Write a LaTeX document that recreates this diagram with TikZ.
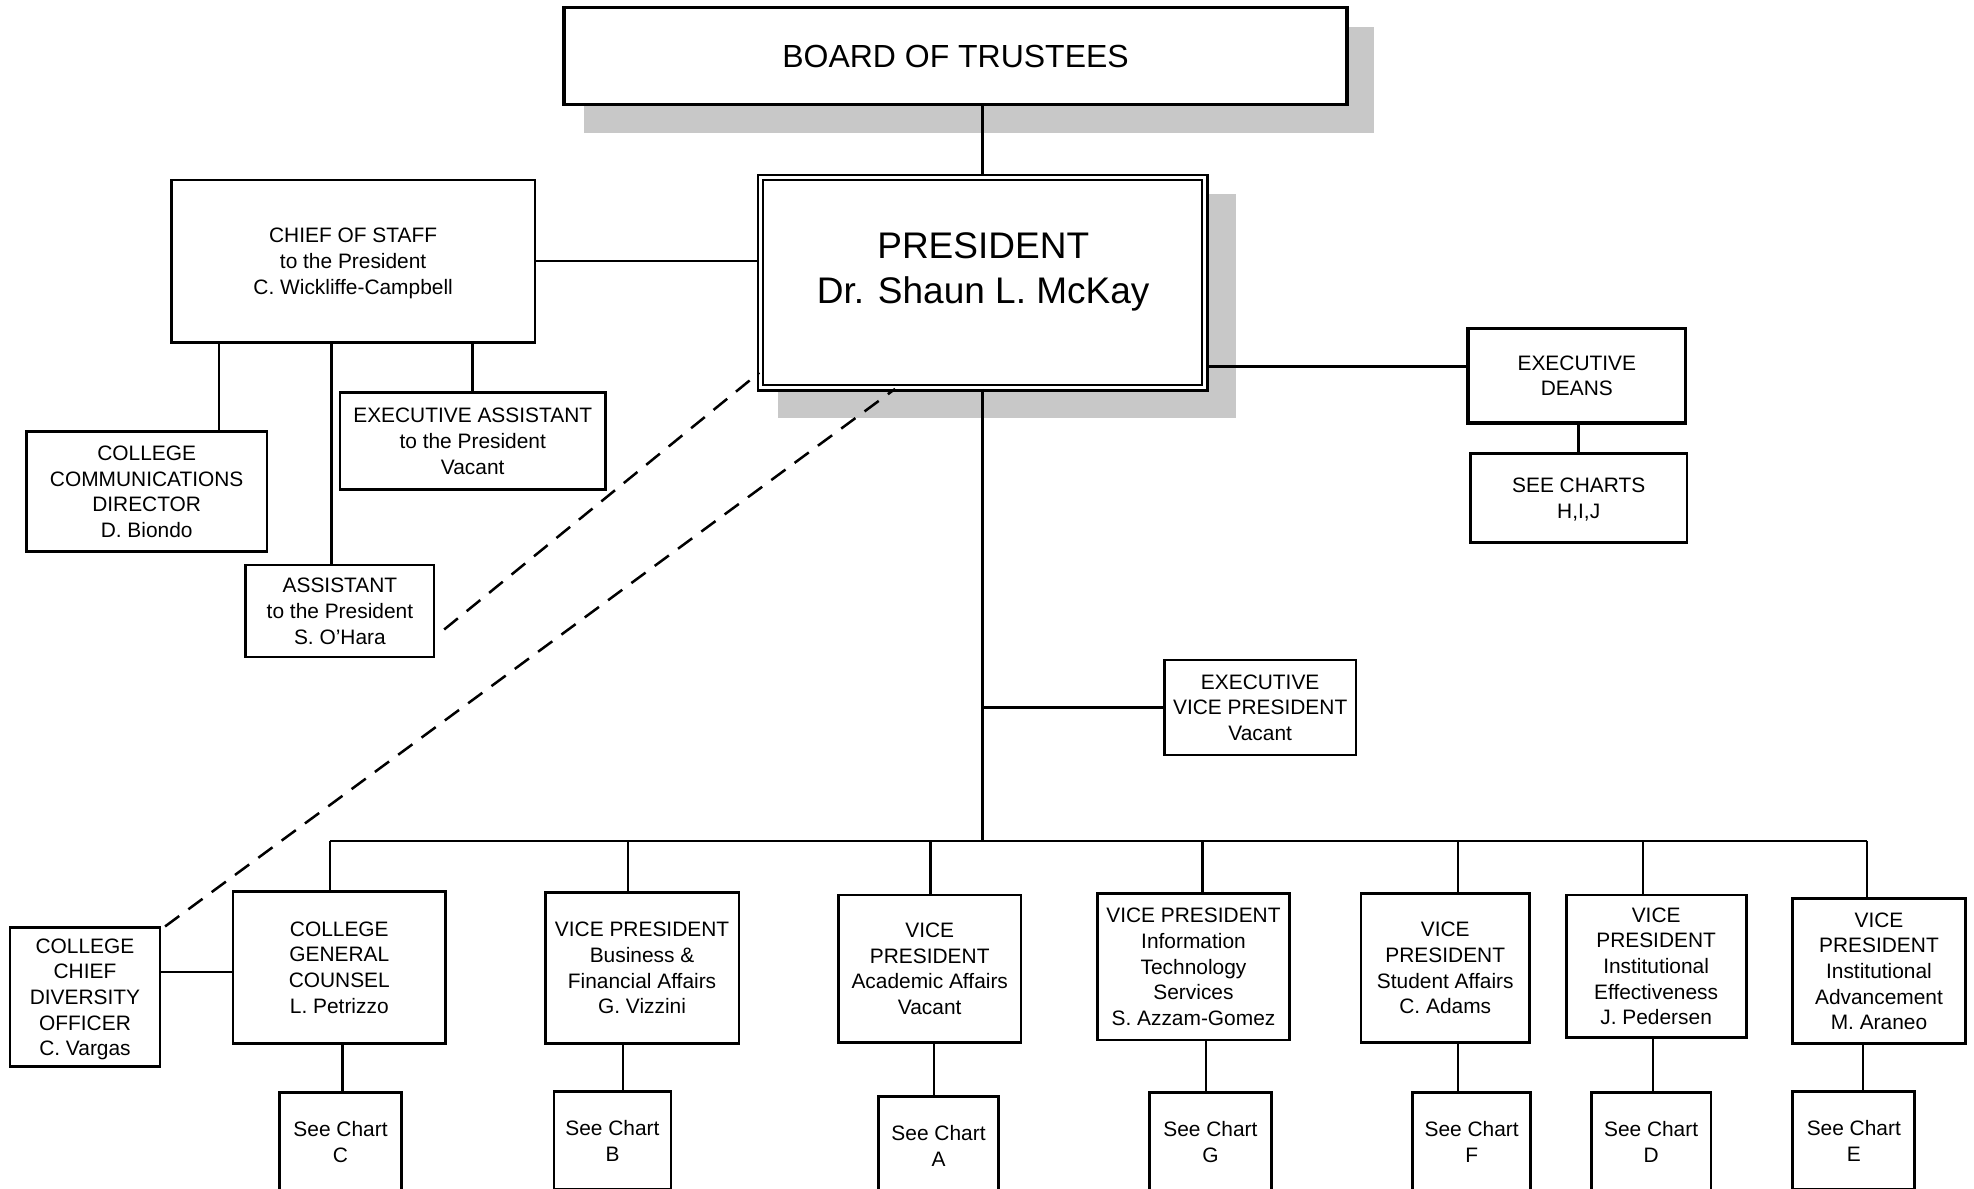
\documentclass[tikz,border=0pt]{standalone}
\usepackage{fontspec}
\setmainfont{Liberation Sans}
\usetikzlibrary{backgrounds}

\definecolor{shadowgray}{RGB}{200,200,200}
\tikzset{
	orgbox/.style={draw, fill=white, line width=2.2pt, align=center, inner sep=2pt, text depth=0pt,
		font=\fontsize{16.6pt}{20.4pt}\selectfont},
	dims/.style 2 args={minimum width=#1pt, minimum height=#2pt},
	conn/.style={line width=2pt},
	dashconn/.style={line width=2pt, dash pattern=on 14pt off 9pt},
}

\begin{document}
\begin{tikzpicture}[x=1pt,y=-1pt]
	\useasboundingbox (0,0) rectangle (1568,944);
	\clip (0,0) rectangle (1568,944);
	
	% board and president
	\node[orgbox, line width=2.6pt, dims={622}{77}, font=\fontsize{25.4pt}{30pt}\selectfont] (board) at (759,44.5) {BOARD OF TRUSTEES};
	\node[orgbox, double, double distance=2.4pt, line width=1.8pt, dims={353}{167}] (pres) at (780.5,224.5) {};
	\node[align=center, font=\fontsize{29.4pt}{36pt}\selectfont] (prestext) at (781,216) {PRESIDENT\\Dr. Shaun L. McKay};
	
	\begin{scope}[on background layer]
		\fill[shadowgray] ([shift={(17,17)}]board.north west) rectangle ([shift={(20,21)}]board.south east);
		\fill[shadowgray] ([shift={(14.5,14)}]pres.north west) rectangle ([shift={(23.5,23)}]pres.south east);
	\end{scope}
	
	% president's office
	\node[orgbox, dims={289}{129}] (cos) at (280.5,207.5) {CHIEF OF STAFF\\to the President\\C. Wickliffe-Campbell};
	\node[orgbox, dims={191}{95}] (comm) at (116.5,390.5) {COLLEGE\\COMMUNICATIONS\\DIRECTOR\\D. Biondo};
	\node[orgbox, line width=1.7pt, dims={150}{73}] (asst) at (270,485.5) {ASSISTANT\\to the President\\S. O’Hara};
	\node[orgbox, dims={211}{77}] (execasst) at (375.5,350.5) {EXECUTIVE ASSISTANT\\to the President\\Vacant};
	
	\node[orgbox, line width=2.6pt, dims={173}{75}] (deans) at (1252.5,298.5) {EXECUTIVE\\DEANS};
	\node[orgbox, dims={172}{71}] (hij) at (1254,395.5) {SEE CHARTS\\H,I,J};
	\node[orgbox, line width=1.7pt, dims={152}{76}] (evp) at (1001,562) {EXECUTIVE\\VICE PRESIDENT\\Vacant};
	
	% vice presidents
	\node[orgbox, dims={119}{110}] (diversity) at (67.5,792) {COLLEGE\\CHIEF\\DIVERSITY\\OFFICER\\C. Vargas};
	\node[orgbox, dims={169}{121}] (counsel) at (269.5,768.5) {COLLEGE\\GENERAL\\COUNSEL\\L. Petrizzo};
	\node[orgbox, dims={154}{120}] (vpbus) at (510,769) {VICE PRESIDENT\\Business \&\\Financial Affairs\\G. Vizzini};
	\node[orgbox, dims={145}{117}] (vpacad) at (738.5,769.5) {VICE\\PRESIDENT\\Academic Affairs\\Vacant};
	\node[orgbox, dims={152}{116}] (vpit) at (948,768) {VICE PRESIDENT\\Information\\Technology\\Services\\S. Azzam-Gomez};
	\node[orgbox, dims={134}{118}] (vpstud) at (1148,769) {VICE\\PRESIDENT\\Student Affairs\\C. Adams};
	\node[orgbox, dims={143}{113}] (vpeff) at (1315.5,767.5) {VICE\\PRESIDENT\\Institutional\\Effectiveness\\J. Pedersen};
	\node[orgbox, dims={137}{115}] (vpadv) at (1492.5,771.5) {VICE\\PRESIDENT\\Institutional\\Advancement\\M. Araneo};
	
	\foreach \ch/\x/\y/\w in {C/270.5/907/97, B/486.5/906/93, A/745.5/910/95, G/961.5/907/97, F/1169/907/94, D/1311.5/907/95, E/1472.5/906/97}
		\node[orgbox, dims={\w}{78}] (chart\ch) at (\x,\y) {See Chart\\\ch};
	
	% connectors
	\draw[conn] (board.south -| pres.north) -- (pres.north);
	\draw[conn] (cos.east) -- (cos.east -| pres.west);
	\draw[conn] ([xshift=57.5]comm.north) -- ([xshift=57.5]comm.north |- cos.south);
	\draw[conn] ([xshift=-6.5]asst.north) -- ([xshift=-6.5]asst.north |- cos.south);
	\draw[conn] (execasst.north) -- (execasst.north |- cos.south);
	\draw[conn] ([yshift=7.5]deans.west) -- ([yshift=7.5]deans.west -| pres.east);
	\draw[conn] (deans.south -| hij.north) -- (hij.north);
	
	\coordinate (bus) at (780.5,668);
	\draw[conn] (pres.south) -- (bus);
	\draw[conn] (bus |- evp.west) -- (evp.west);
	\draw[conn] ([xshift=-7.5]counsel.north |- bus) -- ([xshift=-9.5]vpadv.north |- bus);
	\foreach \vp/\ch/\dx/\ex in {counsel/C/-7.5/2.5, vpbus/B/-11/-15, vpacad/A/0.5/3.5, vpit/G/7/10, vpstud/F/10/10, vpeff/D/-10.5/-2.5, vpadv/E/-9.5/-12.5} {
		\draw[conn] ([xshift=\dx]\vp.north |- bus) -- ([xshift=\dx]\vp.north);
		\draw[conn] ([xshift=\ex]\vp.south) -- ([xshift=\ex]\vp.south |- chart\ch.north);
	}
	\draw[conn] ([yshift=20]diversity.east) -- ([yshift=20]diversity.east -| counsel.west);
	
	\draw[dashconn] ([shift={(7,14.5)}]asst.east) -- ([yshift=-71.5]pres.west);
	\draw[dashconn] ([xshift=3]diversity.north east) -- ([xshift=-69.5]pres.south);
	
\end{tikzpicture}
\end{document}
